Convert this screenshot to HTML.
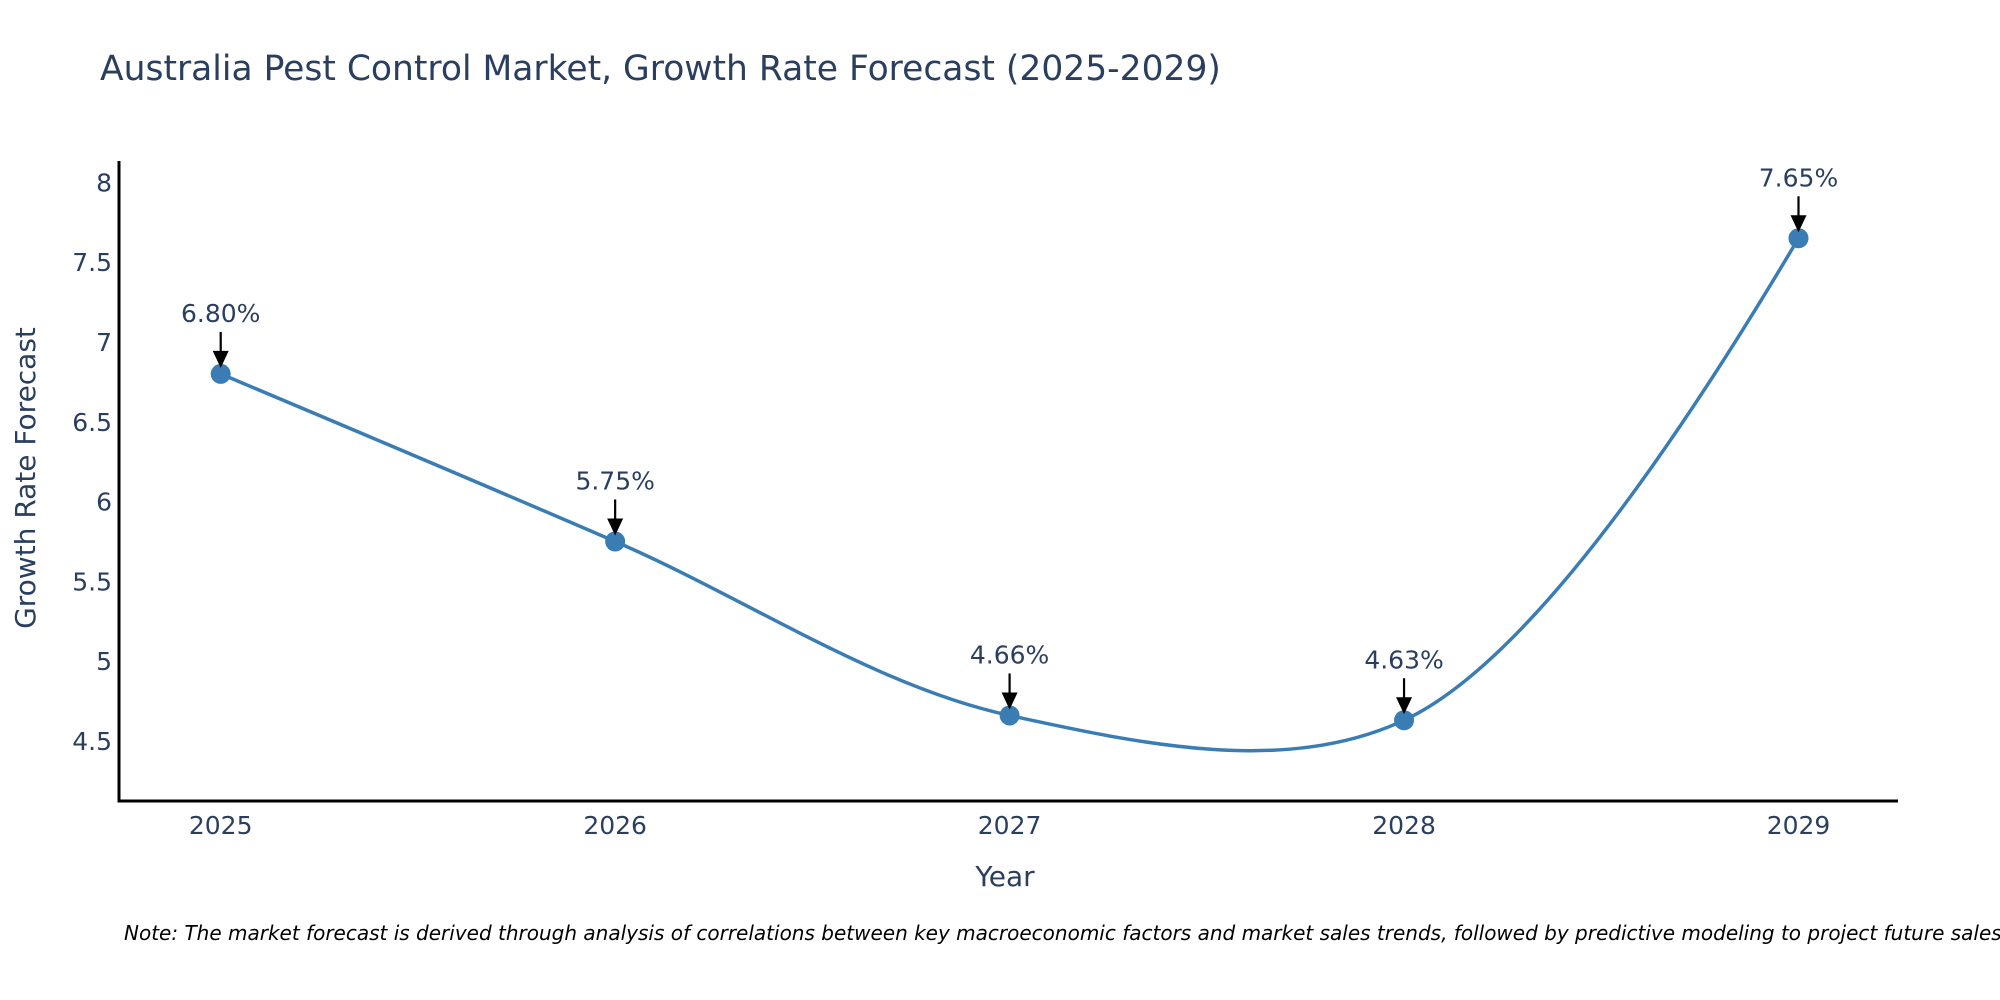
<!DOCTYPE html>
<html><head><meta charset="utf-8"><style>
html,body{margin:0;padding:0;background:#fff;}
svg{display:block;font-family:"DejaVu Sans","Liberation Sans",sans-serif;}
</style></head><body>
<svg id="chart" width="2000" height="1000" viewBox="0 0 2000 1000" xmlns="http://www.w3.org/2000/svg">
<text x="100" y="80" font-size="34.5" fill="#2a3f5f">Australia Pest Control Market, Growth Rate Forecast (2025-2029)</text>
<g id="yticks"></g>
<g id="xticks"></g>
<line x1="119" y1="161" x2="119" y2="802" stroke="#000" stroke-width="3"/>
<line x1="117.5" y1="801" x2="1898" y2="801" stroke="#000" stroke-width="3"/>
<text x="1005" y="886" font-size="28" fill="#2a3f5f" text-anchor="middle">Year</text>
<text transform="translate(35,478) rotate(-90)" font-size="28" fill="#2a3f5f" text-anchor="middle">Growth Rate Forecast</text>
<g id="series"></g>
<g id="annots"></g>
<text x="124" y="940" font-size="20" font-style="italic" fill="#000">Note: The market forecast is derived through analysis of correlations between key macroeconomic factors and market sales trends, followed by predictive modeling to project future sales</text>
</svg>
<script>
const years = [2025, 2026, 2027, 2028, 2029];
const growth = [6.80, 5.75, 4.66, 4.63, 7.65];
const growthLabels = ["6.80%", "5.75%", "4.66%", "4.63%", "7.65%"];
const yTickValues = [4.5, 5, 5.5, 6, 6.5, 7, 7.5, 8];
const yTickLabels = ["4.5", "5", "5.5", "6", "6.5", "7", "7.5", "8"];

const NS = "http://www.w3.org/2000/svg";
function xScale(v){ return 220.7 + (v - 2025) * (1798.5 - 220.7) / 4; }
function yScale(v){ return 741 - (v - 4.5) * (741 - 182.4) / 3.5; }
function mk(tag, attrs, parent){ const e = document.createElementNS(NS, tag); for (const k in attrs) e.setAttribute(k, attrs[k]); parent.appendChild(e); return e; }

const yt = document.getElementById('yticks');
yTickValues.forEach((v, i) => {
  const t = mk('text', {x: 112, y: yScale(v) + 9, 'font-size': 25, fill: '#2a3f5f', 'text-anchor': 'end'}, yt);
  
  
  t.textContent = yTickLabels[i];
});
const xt = document.getElementById('xticks');
years.forEach(v => {
  const t = mk('text', {x: xScale(v), y: 834, 'font-size': 25, fill: '#2a3f5f', 'text-anchor': 'middle'}, xt);
  
  
  t.textContent = String(v);
});

const pts = years.map((y, i) => [xScale(y), yScale(growth[i])]);
function tangent(p, c, n, s){
  const d1x=p[0]-c[0], d1y=p[1]-c[1], d2x=n[0]-c[0], d2y=n[1]-c[1];
  const d1a=Math.pow(d1x*d1x+d1y*d1y,0.25), d2a=Math.pow(d2x*d2x+d2y*d2y,0.25);
  const nx=(d2a*d2a*d1x-d1a*d1a*d2x)*s, ny=(d2a*d2a*d1y-d1a*d1a*d2y)*s;
  const den1=3*d2a*(d1a+d2a), den2=3*d1a*(d1a+d2a);
  return [[c[0]+nx/den1, c[1]+ny/den1],[c[0]-nx/den2, c[1]-ny/den2]];
}
const tg = [];
for (let i = 1; i < pts.length - 1; i++) tg.push(tangent(pts[i-1], pts[i], pts[i+1], 1));
let d = 'M' + pts[0] + 'Q' + tg[0][0] + ' ' + pts[1];
for (let i = 2; i < pts.length - 1; i++) d += 'C' + tg[i-2][1] + ' ' + tg[i-1][0] + ' ' + pts[i];
d += 'Q' + tg[tg.length-1][1] + ' ' + pts[pts.length-1];
const ser = document.getElementById('series');
const line = mk('path', {d: d, fill: 'none', stroke: '#3a7db4', 'stroke-width': 3.5}, ser);


pts.forEach(p => {
  const c = mk('circle', {cx: p[0], cy: p[1], r: 10, fill: '#3a7db4'}, ser);
  
  
});
const an = document.getElementById('annots');
pts.forEach((p, i) => {
  const g = mk('g', {}, an);
  
  
  mk('line', {x1: p[0], y1: p[1]-42, x2: p[0], y2: p[1]-20, stroke: '#000', 'stroke-width': 2.2}, g);
  mk('path', {d: `M${p[0]-8},${p[1]-23} L${p[0]+8},${p[1]-23} L${p[0]},${p[1]-6} Z`, fill: '#000'}, g);
  const t = mk('text', {x: p[0], y: p[1]-52, 'font-size': 25, fill: '#2a3f5f', 'text-anchor': 'middle'}, g);
  t.textContent = growthLabels[i];
});
</script>
</body></html>
